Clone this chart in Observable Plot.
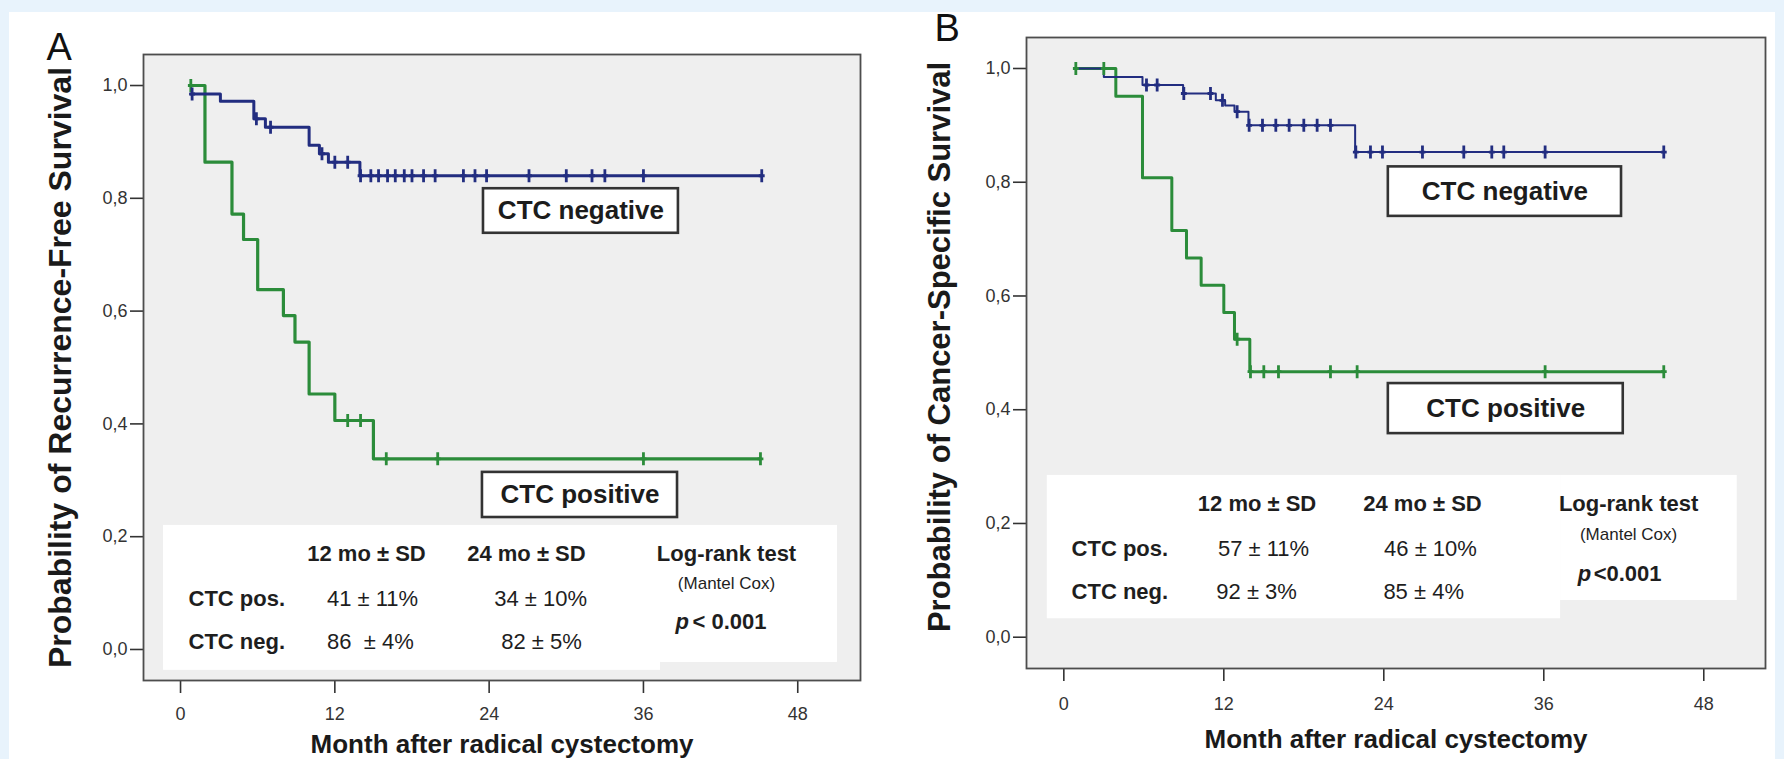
<!DOCTYPE html>
<html><head><meta charset="utf-8">
<script src="https://cdn.jsdelivr.net/npm/d3@7"></script>
<script src="https://cdn.jsdelivr.net/npm/@observablehq/plot@0.6"></script>
<style>
html,body{margin:0;padding:0;}
body{width:1784px;height:759px;background:#e8f3fc;position:relative;overflow:hidden;font-family:"Liberation Sans",Arial,sans-serif;}
#sheet{position:absolute;left:9px;top:12px;width:1766px;height:747px;background:#fff;}
#pa{position:absolute;left:0;top:0;}
#pb{position:absolute;left:890px;top:0;}
</style></head><body><div id="sheet"></div><div id="pa"></div><div id="pb"></div>
<script>
// ---------- data ----------
const groups = ["CTC negative", "CTC positive"];
const xTicks = [0, 12, 24, 36, 48];
const xTickLabels = ["0", "12", "24", "36", "48"];
const yTicks = [0, 0.2, 0.4, 0.6, 0.8, 1.0];
const yTickLabels = ["0,0", "0,2", "0,4", "0,6", "0,8", "1,0"];
const panelLetters = ["A", "B"];
const yTitles = ["Probability of Recurrence-Free Survival", "Probability of Cancer-Specific Survival"];
const xTitle = "Month after radical cystectomy";

// Panel A – recurrence-free survival
const aNegTime = [0.8, 3.1, 5.7, 6.6, 10.0, 10.8, 11.5, 13.95, 45.2];
const aNegSurv = [0.985, 0.972, 0.941, 0.926, 0.894, 0.879, 0.864, 0.840, 0.840];
const aNegCensor = [0.9, 5.9, 7.0, 11.0, 12.0, 13.0, 14.0, 14.8, 15.4, 16.1, 16.7, 17.4, 18.0, 18.9, 19.8, 22.0, 22.9, 23.8, 27.1, 30.0, 32.0, 33.0, 36.0, 45.2];
const aPosTime = [0.8, 1.9, 4.0, 4.9, 6.0, 8.0, 8.9, 10.0, 12.0, 15.0, 45.1];
const aPosSurv = [1.0, 0.864, 0.772, 0.727, 0.638, 0.592, 0.545, 0.453, 0.406, 0.338, 0.338];
const aPosCensor = [0.8, 13.0, 14.0, 16.0, 20.0, 36.0, 45.1];

// Panel B – cancer-specific survival
const bNegTime = [0.9, 3.0, 5.9, 8.95, 11.4, 12.1, 12.8, 13.85, 21.85, 45.0];
const bNegSurv = [1.0, 0.985, 0.971, 0.956, 0.944, 0.935, 0.924, 0.900, 0.853, 0.853];
const bNegCensor = [6.2, 7.0, 9.0, 11.0, 11.9, 13.0, 13.9, 14.9, 15.9, 16.9, 18.0, 19.0, 20.0, 21.9, 23.0, 23.9, 26.9, 30.0, 32.1, 33.0, 36.1, 45.0];
const bPosTime = [0.9, 3.9, 5.9, 8.1, 9.2, 10.3, 12.0, 12.8, 13.95, 45.0];
const bPosSurv = [1.0, 0.951, 0.808, 0.715, 0.667, 0.619, 0.571, 0.524, 0.467, 0.467];
const bPosCensor = [0.9, 3.0, 13.0, 14.0, 15.0, 16.1, 20.0, 22.0, 36.1, 45.0];

// summary table
const colHeaders = ["12 mo \u00b1 SD", "24 mo \u00b1 SD"];
const rowLabels = ["CTC pos.", "CTC neg."];
const aTable = [["41 \u00b1 11%", "34 \u00b1 10%"], ["86 \u00a0\u00b1 4%", "82 \u00b1 5%"]];
const bTable = [["57 \u00b1 11%", "46 \u00b1 10%"], ["92 \u00b1 3%", "85 \u00b1 4%"]];
const testLines = ["Log-rank test", "(Mantel Cox)"];
const pSymbol = "p";
const aPText = "< 0.001";
const bPText = "<0.001";

// ---------- drawing ----------
const FONT = '"Liberation Sans", Arial, "Helvetica", sans-serif';
const BLUE = "#222d80", GREEN = "#2b8c3a";
const censorSymbol = {
  draw(ctx, size) {
    const r = Math.sqrt(size / Math.PI);
    ctx.moveTo(0, -r); ctx.lineTo(0, r);
    ctx.moveTo(-r * 0.45, 0); ctx.lineTo(r * 0.45, 0);
  }
};
function steps(times, surv) { return times.map((t, i) => ({t, s: surv[i]})); }
function survAt(times, surv, t) {
  let s = surv[0];
  for (let i = 0; i < times.length; i++) if (times[i] <= t + 1e-9) s = surv[i];
  return s;
}
function censors(times, surv, cens) { return cens.map(t => ({t, s: survAt(times, surv, t)})); }

function panel(o) {
  const neg = steps(o.negT, o.negS), pos = steps(o.posT, o.posS);
  const negC = censors(o.negT, o.negS, o.negC), posC = censors(o.posT, o.posS, o.posC);
  const L = o.layout;
  const heads = colHeaders.map((h, j) => ({t: h, x: L.colX[j], y: L.headY}));
  heads.push({t: testLines[0], x: L.testX, y: L.headY});
  const vals = [];
  o.table.forEach((row, i) => row.forEach((v, j) => vals.push({t: v, x: L.valX[i][j], y: L.rowY[i]})));
  const rows = rowLabels.map((t, i) => ({t, x: L.rowLabelX, y: L.rowY[i]}));
  const boxes = groups.map((g, i) => ({label: g, ...L.boxes[i]}));
  const ink = "#1e1e1e";
  return Plot.plot({
    width: o.width, height: 759,
    marginLeft: o.ml, marginRight: o.mr, marginTop: o.mt, marginBottom: o.mb,
    x: {domain: o.xDomain}, y: {domain: o.yDomain},
    style: {background: "transparent", fontFamily: FONT, overflow: "visible"},
    marks: [
      Plot.frame({fill: "#efefef", stroke: "none"}),
      Plot.rect(L.tableRects, {x1: "x1", x2: "x2", y1: "y1", y2: "y2", fill: "#ffffff"}),
      Plot.rect(boxes, {x1: "x1", x2: "x2", y1: "y1", y2: "y2", fill: "#ffffff", stroke: "#333", strokeWidth: 2.6}),
      Plot.text(boxes, {x: d => (d.x1 + d.x2) / 2, y: d => (d.y1 + d.y2) / 2, text: "label", fontSize: 26, fontWeight: "bold", fill: "#1c1c1c"}),
      Plot.line(pos, {x: "t", y: "s", curve: "step-after", stroke: GREEN, strokeWidth: o.posW}),
      Plot.line(neg, {x: "t", y: "s", curve: "step-after", stroke: BLUE, strokeWidth: o.negW}),
      Plot.dot(posC, {x: "t", y: "s", r: 6.5, symbol: censorSymbol, stroke: GREEN, fill: "none", strokeWidth: 2.8}),
      Plot.dot(negC, {x: "t", y: "s", r: 6.5, symbol: censorSymbol, stroke: BLUE, fill: "none", strokeWidth: 2.8}),
      Plot.text(heads, {x: "x", y: "y", text: "t", fontWeight: "bold", fontSize: 22, fill: ink}),
      Plot.text(vals, {x: "x", y: "y", text: "t", fontSize: 22, fill: ink}),
      Plot.text(rows, {x: "x", y: "y", text: "t", textAnchor: "start", fontWeight: "bold", fontSize: 22, fill: ink}),
      Plot.text([testLines[1]], {x: L.testX, y: L.mantelY, fontSize: 17, fill: ink}),
      Plot.text([pSymbol], {x: L.pX, y: L.pY, textAnchor: "start", fontSize: 22, fontWeight: "bold", fontStyle: "italic", fill: ink}),
      Plot.text([o.pText], {x: L.pX2, y: L.pY, textAnchor: "start", fontSize: 22, fontWeight: "bold", fill: ink}),
      Plot.axisX({ticks: xTicks, tickFormat: d => xTickLabels[xTicks.indexOf(d)], tickSize: 13, tickPadding: o.xPad, fontSize: 18, label: null, color: "#333", strokeWidth: 1.6}),
      Plot.axisY({ticks: yTicks, tickFormat: d => yTickLabels[yTicks.indexOf(d)], tickSize: 13, tickPadding: 3, fontSize: 18, label: null, color: "#333", strokeWidth: 1.6}),
      Plot.frame({stroke: "#4d4d4d", strokeWidth: 1.8}),
      Plot.text([o.letter], {frameAnchor: "top-left", dx: o.letterDx, dy: o.letterDy, textAnchor: "start", lineAnchor: "middle", fontSize: 38, fill: "#111"}),
      Plot.text([o.yTitle], {frameAnchor: "left", rotate: -90, textAnchor: "middle", lineAnchor: "middle", dx: o.yTitleDx, dy: o.yTitleDy, fontSize: o.yTitleSize, fontWeight: "bold", fill: "#1a1a1a"}),
      Plot.text([xTitle], {frameAnchor: "bottom", lineAnchor: "middle", dy: o.xTitleDy, fontSize: 26, fontWeight: "bold", fill: "#1a1a1a"})
    ]
  });
}

const plotA = panel({
  width: 890, ml: 143, mr: 30, mt: 54, mb: 79,
  xDomain: [-2.88, 52.88], yDomain: [-0.055, 1.055],
  negT: aNegTime, negS: aNegSurv, negC: aNegCensor,
  posT: aPosTime, posS: aPosSurv, posC: aPosCensor,
  negW: 3.0, posW: 3.2, xPad: 14, xTitleDy: 64.5,
  table: aTable, pText: aPText,
  letter: panelLetters[0], letterDx: -97, letterDy: -7,
  yTitle: yTitles[0], yTitleDx: -83, yTitleDy: 0, yTitleSize: 32,
  layout: {
    tableRects: [{x1: -1.32, x2: 37.33, y1: -0.037, y2: 0.220}, {x1: 37.33, x2: 51.09, y1: -0.023, y2: 0.220}],
    boxes: [{x1: 23.56, x2: 38.72, y1: 0.738, y2: 0.817}, {x1: 23.48, x2: 38.65, y1: 0.234, y2: 0.314}],
    colX: [14.46, 26.9], headY: 0.170, testX: 42.46, mantelY: 0.1177,
    rowLabelX: 0.62, rowY: [0.0904, 0.0142],
    valX: [[14.93, 28.0], [14.77, 28.07]],
    pX: 38.49, pX2: 39.81, pY: 0.0496
  }
});
const plotB = panel({
  width: 894, ml: 136, mr: 19, mt: 37, mb: 91,
  xDomain: [-2.80, 52.63], yDomain: [-0.055, 1.0545],
  negT: bNegTime, negS: bNegSurv, negC: bNegCensor,
  posT: bPosTime, posS: bPosSurv, posC: bPosCensor,
  negW: 2.0, posW: 3.0, xPad: 16, xTitleDy: 70.7,
  table: bTable, pText: bPText,
  letter: panelLetters[1], letterDx: -92, letterDy: -8.5,
  yTitle: yTitles[1], yTitleDx: -86, yTitleDy: -6, yTitleSize: 31,
  layout: {
    tableRects: [{x1: -1.24, x2: 37.26, y1: 0.0324, y2: 0.2845}, {x1: 37.26, x2: 50.51, y1: 0.0646, y2: 0.2845}],
    boxes: [{x1: 24.34, x2: 41.83, y1: 0.740, y2: 0.827}, {x1: 24.34, x2: 41.96, y1: 0.358, y2: 0.446}],
    colX: [14.49, 26.9], headY: 0.2352, testX: 42.36, mantelY: 0.1814,
    rowLabelX: 0.58, rowY: [0.156, 0.0804],
    valX: [[14.98, 27.5], [14.46, 26.99]],
    pX: 38.54, pX2: 39.74, pY: 0.112
  }
});
document.getElementById("pa").appendChild(plotA);
document.getElementById("pb").appendChild(plotB);
</script></body></html>
